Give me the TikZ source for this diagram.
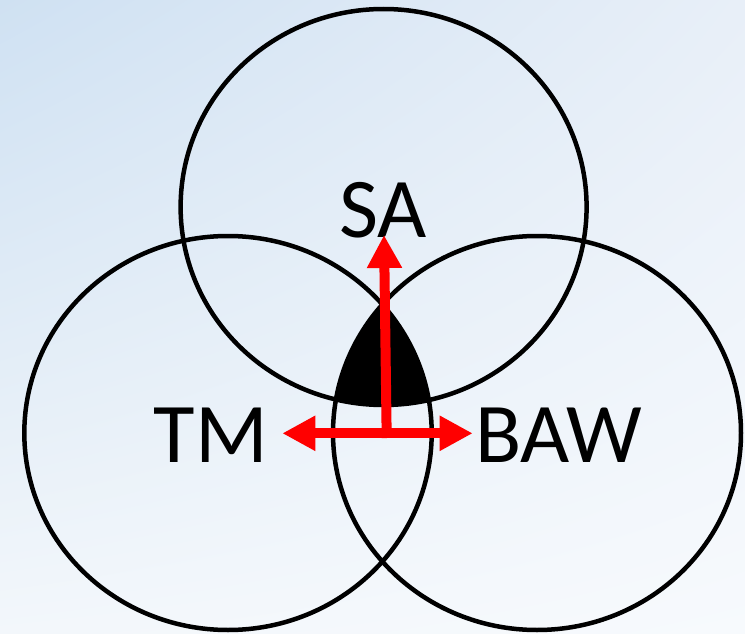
\documentclass[tikz,border=0pt]{standalone}
\usepackage{fontspec}
\setmainfont{Carlito}
\usetikzlibrary{arrows.meta,shadings}
\definecolor{bgA}{HTML}{CFE1F2}
\definecolor{bgB}{HTML}{E8EFF8}
\definecolor{bgC}{HTML}{F3F7FB}
\definecolor{bgD}{HTML}{F7FAFD}
\tikzset{
  ring/.style={draw=black, line width=4.5pt},
  redarrow/.style={draw=red, line width=10pt, -{Triangle[length=33pt,width=33pt]}},
  reddouble/.style={draw=red, line width=10pt, {Triangle[length=33pt,width=33pt]}-{Triangle[length=33pt,width=33pt]}},
  lbl/.style={anchor=base, inner sep=0pt, font=\fontsize{85}{85}\selectfont}
}
\begin{document}
\begin{tikzpicture}[x=1pt,y=-1pt]
\useasboundingbox (0,0) rectangle (745,634);
\shade[upper left=bgA, upper right=bgB, lower left=bgC, lower right=bgD] (0,0) rectangle (745,634);
% triple intersection
\begin{scope}
  \clip (383.6,207) ellipse [x radius=203, y radius=198];
  \clip (228,433) ellipse [x radius=203.7, y radius=197];
  \fill[black] (537,433) ellipse [x radius=204, y radius=197];
\end{scope}
\draw[ring] (383.6,207) ellipse [x radius=203, y radius=198];
\draw[ring] (228,433) ellipse [x radius=203.7, y radius=197];
\draw[ring] (537,433) ellipse [x radius=204, y radius=197];
% labels
\node[lbl] (sa) at (383,237) {SA};
\node[lbl] (tm) at (210.7,462.7) {TM};
\node[lbl] (baw) at (558.6,462.7) {BAW};
% arrows
\coordinate (o) at (386.7,438);
\coordinate (up) at (384,235);
\coordinate (lt) at (282.3,433.3);
\coordinate (rt) at (472.7,433.3);
\draw[redarrow] (o) -- (up);
\draw[reddouble] (lt) -- (rt);
\end{tikzpicture}
\end{document}
